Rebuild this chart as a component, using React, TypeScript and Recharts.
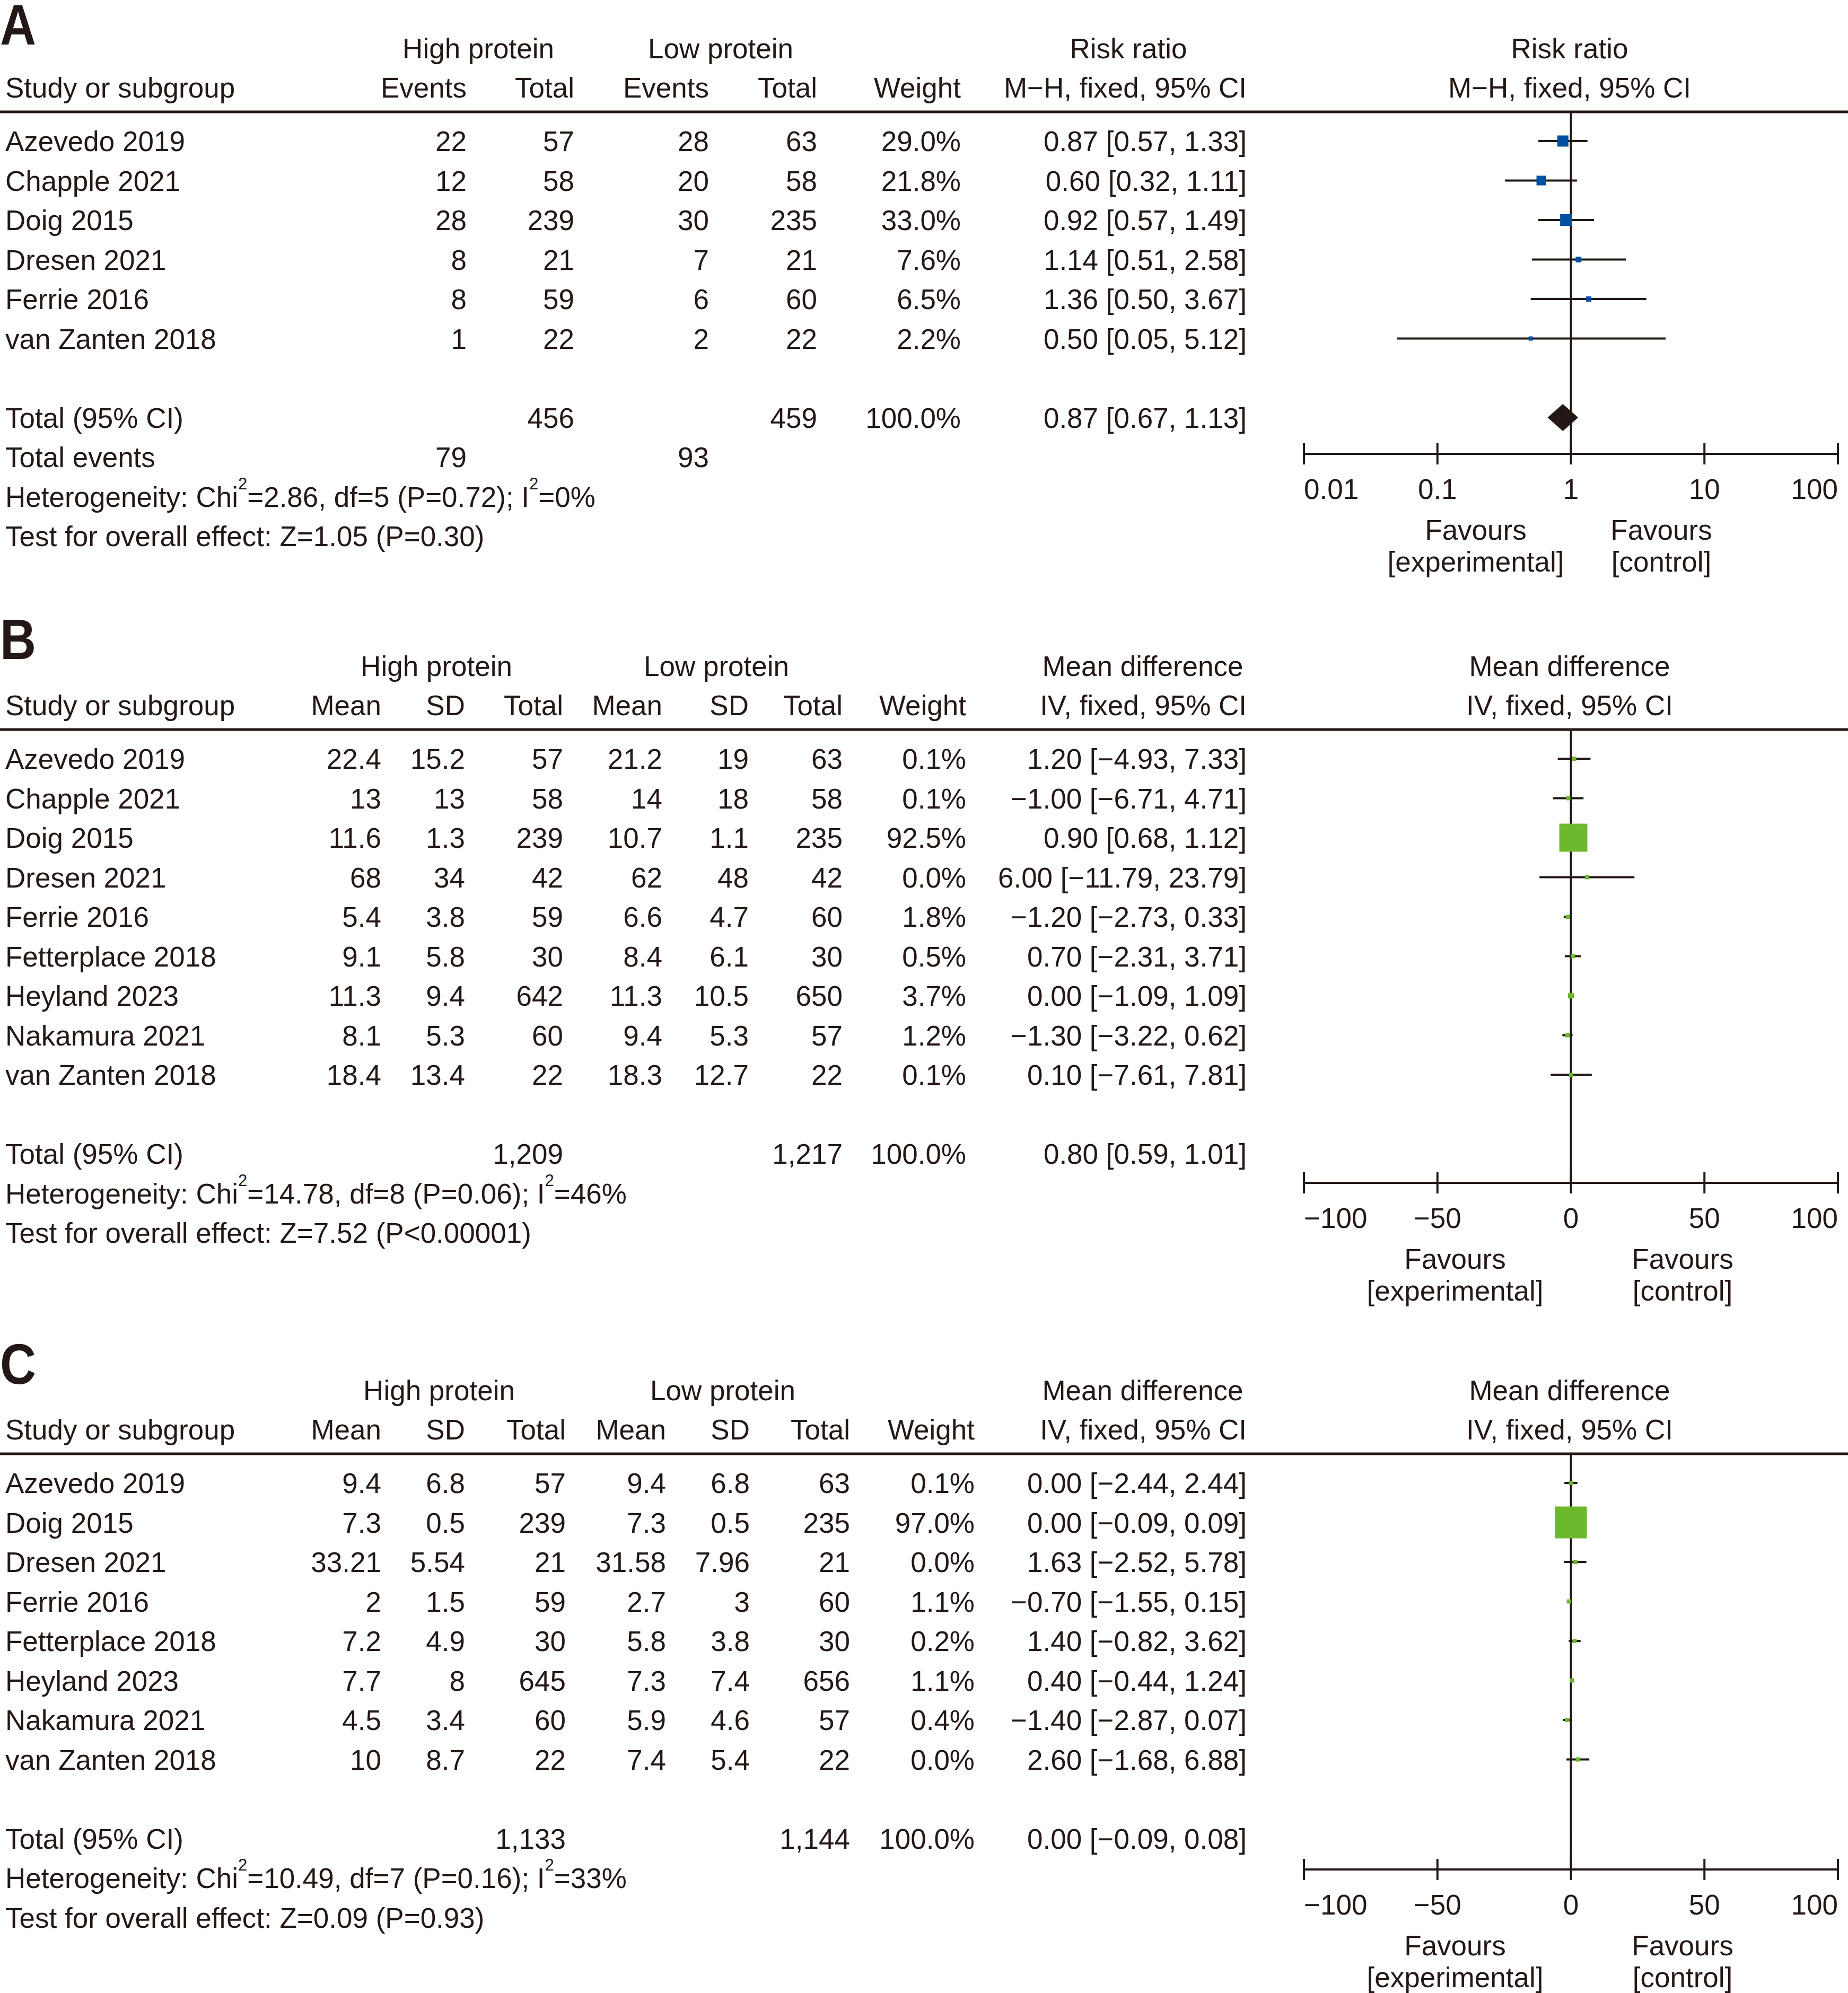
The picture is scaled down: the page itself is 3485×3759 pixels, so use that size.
import React from 'react';
import { ScatterChart, Scatter, XAxis, YAxis, ErrorBar, ReferenceLine } from 'recharts';

const INK = '#231815';
const BLUE = '#0050a0';
const GREEN = '#6cb92d';
const FONT = "'Liberation Sans', Arial, Helvetica, sans-serif";
const FS = 53;
const BL = 19; // baseline offset from a row's visual centre
const P = 74.5; // row pitch
const LX = 10;
const PLOT_L = 2459;
const PLOT_R = 3466;
const PAD = 40;

// ---- Panel A: mortality, risk ratio ----
const studiesA = ['Azevedo 2019', 'Chapple 2021', 'Doig 2015', 'Dresen 2021', 'Ferrie 2016', 'van Zanten 2018'];
const hiEventsA = [22, 12, 28, 8, 8, 1];
const hiTotalA = [57, 58, 239, 21, 59, 22];
const loEventsA = [28, 20, 30, 7, 6, 2];
const loTotalA = [63, 58, 235, 21, 60, 22];
const weightA = [29.0, 21.8, 33.0, 7.6, 6.5, 2.2];
const rrA = [0.87, 0.6, 0.92, 1.14, 1.36, 0.5];
const rrLoA = [0.57, 0.32, 0.57, 0.51, 0.5, 0.05];
const rrHiA = [1.33, 1.11, 1.49, 2.58, 3.67, 5.12];
const pooledA = [0.87, 0.67, 1.13];
const totalsA = ['456', '459'];
const eventsA = ['79', '93'];
const hetA = ['2.86', '5', '0.72', '0'];
const testA = 'Z=1.05 (P=0.30)';
const ticksA = [0.01, 0.1, 1, 10, 100];

// ---- Panel B ----
const studiesB = ['Azevedo 2019', 'Chapple 2021', 'Doig 2015', 'Dresen 2021', 'Ferrie 2016', 'Fetterplace 2018', 'Heyland 2023', 'Nakamura 2021', 'van Zanten 2018'];
const hiMeanB = [22.4, 13, 11.6, 68, 5.4, 9.1, 11.3, 8.1, 18.4];
const hiSdB = [15.2, 13, 1.3, 34, 3.8, 5.8, 9.4, 5.3, 13.4];
const hiTotalB = [57, 58, 239, 42, 59, 30, 642, 60, 22];
const loMeanB = [21.2, 14, 10.7, 62, 6.6, 8.4, 11.3, 9.4, 18.3];
const loSdB = [19, 18, 1.1, 48, 4.7, 6.1, 10.5, 5.3, 12.7];
const loTotalB = [63, 58, 235, 42, 60, 30, 650, 57, 22];
const weightB = [0.1, 0.1, 92.5, 0.0, 1.8, 0.5, 3.7, 1.2, 0.1];
const mdB = [1.2, -1.0, 0.9, 6.0, -1.2, 0.7, 0.0, -1.3, 0.1];
const mdLoB = [-4.93, -6.71, 0.68, -11.79, -2.73, -2.31, -1.09, -3.22, -7.61];
const mdHiB = [7.33, 4.71, 1.12, 23.79, 0.33, 3.71, 1.09, 0.62, 7.81];
const pooledB = [0.8, 0.59, 1.01];
const totalsB = ['1,209', '1,217'];
const hetB = ['14.78', '8', '0.06', '46'];
const testB = 'Z=7.52 (P<0.00001)';

// ---- Panel C ----
const studiesC = ['Azevedo 2019', 'Doig 2015', 'Dresen 2021', 'Ferrie 2016', 'Fetterplace 2018', 'Heyland 2023', 'Nakamura 2021', 'van Zanten 2018'];
const hiMeanC = [9.4, 7.3, 33.21, 2, 7.2, 7.7, 4.5, 10];
const hiSdC = [6.8, 0.5, 5.54, 1.5, 4.9, 8, 3.4, 8.7];
const hiTotalC = [57, 239, 21, 59, 30, 645, 60, 22];
const loMeanC = [9.4, 7.3, 31.58, 2.7, 5.8, 7.3, 5.9, 7.4];
const loSdC = [6.8, 0.5, 7.96, 3, 3.8, 7.4, 4.6, 5.4];
const loTotalC = [63, 235, 21, 60, 30, 656, 57, 22];
const weightC = [0.1, 97.0, 0.0, 1.1, 0.2, 1.1, 0.4, 0.0];
const mdC = [0.0, 0.0, 1.63, -0.7, 1.4, 0.4, -1.4, 2.6];
const mdLoC = [-2.44, -0.09, -2.52, -1.55, -0.82, -0.44, -2.87, -1.68];
const mdHiC = [2.44, 0.09, 5.78, 0.15, 3.62, 1.24, 0.07, 6.88];
const pooledC = [0.0, -0.09, 0.08];
const totalsC = ['1,133', '1,144'];
const hetC = ['10.49', '7', '0.16', '33'];
const testC = 'Z=0.09 (P=0.93)';
const ticksMD = [-100, -50, 0, 50, 100];

const minus = (s: string) => s.replace('-', '\u2212');
const f2 = (v: number) => minus((Math.abs(v) < 0.005 ? 0 : v).toFixed(2));
const ci = (e: number, l: number, h: number) => `${f2(e)} [${f2(l)}, ${f2(h)}]`;
const pct = (w: number) => `${w.toFixed(1)}%`;

function T({ x, y, anchor = 'start', size = FS, weight, family = FONT, children }: any) {
  return (
    <text x={x} y={y} textAnchor={anchor} fontSize={size} fontFamily={family} fontWeight={weight} fill={INK}>
      {children}
    </text>
  );
}

function Het({ y, v }: { y: number; v: string[] }) {
  return (
    <text x={LX} y={y} fontSize={FS} fontFamily={FONT} fill={INK}>
      Heterogeneity: Chi<tspan fontSize={31} dy={-33}>2</tspan>
      <tspan dy={33}>={v[0]}, df={v[1]} (P={v[2]}); I</tspan>
      <tspan fontSize={31} dy={-33}>2</tspan>
      <tspan dy={33}>={v[3]}%</tspan>
    </text>
  );
}

function Favours({ axisY, left, right }: { axisY: number; left: number; right: number }) {
  return (
    <g>
      <T x={left} y={axisY + 162} anchor="middle">Favours</T>
      <T x={left} y={axisY + 222} anchor="middle">[experimental]</T>
      <T x={right} y={axisY + 162} anchor="middle">Favours</T>
      <T x={right} y={axisY + 222} anchor="middle">[control]</T>
    </g>
  );
}

function Forest({ est, lo, hi, weight, pooled, log, ticks, color, boxK, top, rowTop, axisY, diamond = true }: any) {
  const yMin = (top - rowTop) / P;
  const yMax = (axisY - rowTop) / P;
  const totalRow = est.length + 1;
  const rows = est.map((e: number, i: number) => ({ x: e, y: i, err: [e - lo[i], hi[i] - e], w: weight[i] }));
  const [pe, pl, ph] = pooled;
  const dh = 0.34;
  const dia = [
    { x: pl, y: totalRow },
    { x: pe, y: totalRow - dh },
    { x: ph, y: totalRow },
    { x: pe, y: totalRow + dh },
    { x: pl, y: totalRow },
  ];
  const last = ticks.length - 1;
  const fmt = (v: number) => (v < 0 ? '\u2212' + Math.abs(v) : String(v));
  const renderTick = (p: any) => {
    const anchor = p.index === 0 ? 'start' : p.index === last ? 'end' : 'middle';
    return (
      <g>
        <line x1={p.x} x2={p.x} y1={p.y - 20} y2={p.y + 20} stroke={INK} strokeWidth={4} />
        <text x={p.x} y={p.y + 85} textAnchor={anchor} fontSize={FS} fontFamily={FONT} fill={INK}>
          {fmt(p.payload.value)}
        </text>
      </g>
    );
  };
  const box = (p: any) => {
    const s = Math.max(8, boxK * Math.sqrt(p.payload.w));
    return <rect x={p.cx - s / 2} y={p.cy - s / 2} width={s} height={s} fill={color} />;
  };
  const plotH = axisY - top;
  return (
    <div style={{ position: 'absolute', left: PLOT_L - PAD, top }}>
      <ScatterChart
        width={PLOT_R - PLOT_L + 2 * PAD}
        height={plotH + 130}
        margin={{ top: 0, right: PAD, bottom: 0, left: PAD }}
      >
        <XAxis
          type="number"
          dataKey="x"
          scale={log ? 'log' : 'linear'}
          domain={[ticks[0], ticks[last]]}
          ticks={ticks}
          interval={0}
          allowDataOverflow
          height={130}
          tickSize={0}
          tickMargin={0}
          tickLine={false}
          axisLine={{ stroke: INK, strokeWidth: 4 }}
          tick={renderTick}
        />
        <YAxis type="number" dataKey="y" domain={[yMin, yMax]} reversed hide allowDataOverflow width={0} />
        <ReferenceLine x={log ? 1 : 0} stroke={INK} strokeWidth={4} />
        {diamond && (
          <Scatter
            data={dia}
            line={{ stroke: INK, strokeWidth: 0.5, fill: INK }}
            shape={() => <g />}
            isAnimationActive={false}
          />
        )}
        <Scatter data={rows} fill={color} shape={box} isAnimationActive={false}>
          <ErrorBar dataKey="err" direction="x" width={0} stroke={INK} strokeWidth={4} />
        </Scatter>
      </ScatterChart>
    </div>
  );
}

function Letter({ y, children }: any) {
  return (
    <text
      transform={`translate(0, ${y}) scale(0.88, 1)`}
      fontSize={107}
      fontWeight="bold"
      fontFamily={FONT}
      fill={INK}
    >
      {children}
    </text>
  );
}

function Rows({ labels, cols, xs, rowTop }: { labels: string[]; cols: (string | number)[][]; xs: number[]; rowTop: number }) {
  return (
    <g>
      {labels.map((s, i) => (
        <g key={s}>
          <T x={LX} y={rowTop + i * P + BL}>{s}</T>
          {cols.map((c, j) => (
            <T key={j} x={xs[j]} y={rowTop + i * P + BL} anchor="end">{String(c[i])}</T>
          ))}
        </g>
      ))}
    </g>
  );
}

export default function App() {
  const aRule = 211, aRow = 266, aAxis = 856;
  const bRule = 1376, bRow = 1431, bAxis = 2231;
  const cRule = 2742, cRow = 2797, cAxis = 3526;
  const xsA = [880, 1083, 1337, 1541, 1812, 2351];
  const xsB = [719, 877, 1062, 1249, 1412, 1589, 1822, 2351];
  const xsC = [719, 877, 1067, 1256, 1414, 1603, 1838, 2351];
  const ciA = rrA.map((e, i) => ci(e, rrLoA[i], rrHiA[i]));
  const ciB = mdB.map((e, i) => ci(e, mdLoB[i], mdHiB[i]));
  const ciC = mdC.map((e, i) => ci(e, mdLoC[i], mdHiC[i]));
  const headMD = ['Mean', 'SD', 'Total', 'Mean', 'SD', 'Total', 'Weight', 'IV, fixed, 95% CI'];

  return (
    <div style={{ position: 'relative', width: 3485, height: 3759, background: '#fff', overflow: 'hidden' }}>
      <style>{'body{margin:0}'}</style>
      <svg width={3485} height={3759} style={{ position: 'absolute', left: 0, top: 0 }}>
        {/* ---------- A ---------- */}
        <Letter y={84}>A</Letter>
        <T x={902} y={110} anchor="middle">High protein</T>
        <T x={1359} y={110} anchor="middle">Low protein</T>
        <T x={2128} y={110} anchor="middle">Risk ratio</T>
        <T x={2960} y={110} anchor="middle">Risk ratio</T>
        <T x={LX} y={184}>Study or subgroup</T>
        <T x={xsA[0]} y={184} anchor="end">Events</T>
        <T x={xsA[1]} y={184} anchor="end">Total</T>
        <T x={xsA[2]} y={184} anchor="end">Events</T>
        <T x={xsA[3]} y={184} anchor="end">Total</T>
        <T x={xsA[4]} y={184} anchor="end">Weight</T>
        <T x={xsA[5]} y={184} anchor="end">M{'\u2212'}H, fixed, 95% CI</T>
        <T x={2960} y={184} anchor="middle">M{'\u2212'}H, fixed, 95% CI</T>
        <line x1={0} x2={3485} y1={aRule} y2={aRule} stroke={INK} strokeWidth={5} />
        <Rows labels={studiesA} cols={[hiEventsA, hiTotalA, loEventsA, loTotalA, weightA.map(pct), ciA]} xs={xsA} rowTop={aRow} />
        <T x={LX} y={aRow + 7 * P + BL}>Total (95% CI)</T>
        <T x={xsA[1]} y={aRow + 7 * P + BL} anchor="end">{totalsA[0]}</T>
        <T x={xsA[3]} y={aRow + 7 * P + BL} anchor="end">{totalsA[1]}</T>
        <T x={xsA[4]} y={aRow + 7 * P + BL} anchor="end">100.0%</T>
        <T x={xsA[5]} y={aRow + 7 * P + BL} anchor="end">{ci(pooledA[0], pooledA[1], pooledA[2])}</T>
        <T x={LX} y={aRow + 8 * P + BL}>Total events</T>
        <T x={xsA[0]} y={aRow + 8 * P + BL} anchor="end">{eventsA[0]}</T>
        <T x={xsA[2]} y={aRow + 8 * P + BL} anchor="end">{eventsA[1]}</T>
        <Het y={aRow + 9 * P + BL} v={hetA} />
        <T x={LX} y={aRow + 10 * P + BL}>Test for overall effect: {testA}</T>
        <Favours axisY={aAxis} left={2783} right={3133} />

        {/* ---------- B ---------- */}
        <Letter y={1243}>B</Letter>
        <T x={823} y={1275} anchor="middle">High protein</T>
        <T x={1351} y={1275} anchor="middle">Low protein</T>
        <T x={2155} y={1275} anchor="middle">Mean difference</T>
        <T x={2960} y={1275} anchor="middle">Mean difference</T>
        <T x={LX} y={1349}>Study or subgroup</T>
        {headMD.map((h, j) => (
          <T key={j} x={xsB[j]} y={1349} anchor="end">{h}</T>
        ))}
        <T x={2960} y={1349} anchor="middle">IV, fixed, 95% CI</T>
        <line x1={0} x2={3485} y1={bRule} y2={bRule} stroke={INK} strokeWidth={5} />
        <Rows labels={studiesB} cols={[hiMeanB, hiSdB, hiTotalB, loMeanB, loSdB, loTotalB, weightB.map(pct), ciB]} xs={xsB} rowTop={bRow} />
        <T x={LX} y={bRow + 10 * P + BL}>Total (95% CI)</T>
        <T x={xsB[2]} y={bRow + 10 * P + BL} anchor="end">{totalsB[0]}</T>
        <T x={xsB[5]} y={bRow + 10 * P + BL} anchor="end">{totalsB[1]}</T>
        <T x={xsB[6]} y={bRow + 10 * P + BL} anchor="end">100.0%</T>
        <T x={xsB[7]} y={bRow + 10 * P + BL} anchor="end">{ci(pooledB[0], pooledB[1], pooledB[2])}</T>
        <Het y={bRow + 11 * P + BL} v={hetB} />
        <T x={LX} y={bRow + 12 * P + BL}>Test for overall effect: {testB}</T>
        <Favours axisY={bAxis} left={2744} right={3173} />

        {/* ---------- C ---------- */}
        <Letter y={2610}>C</Letter>
        <T x={828} y={2641} anchor="middle">High protein</T>
        <T x={1363} y={2641} anchor="middle">Low protein</T>
        <T x={2155} y={2641} anchor="middle">Mean difference</T>
        <T x={2960} y={2641} anchor="middle">Mean difference</T>
        <T x={LX} y={2715}>Study or subgroup</T>
        {headMD.map((h, j) => (
          <T key={j} x={xsC[j]} y={2715} anchor="end">{h}</T>
        ))}
        <T x={2960} y={2715} anchor="middle">IV, fixed, 95% CI</T>
        <line x1={0} x2={3485} y1={cRule} y2={cRule} stroke={INK} strokeWidth={5} />
        <Rows labels={studiesC} cols={[hiMeanC, hiSdC, hiTotalC, loMeanC, loSdC, loTotalC, weightC.map(pct), ciC]} xs={xsC} rowTop={cRow} />
        <T x={LX} y={cRow + 9 * P + BL}>Total (95% CI)</T>
        <T x={xsC[2]} y={cRow + 9 * P + BL} anchor="end">{totalsC[0]}</T>
        <T x={xsC[5]} y={cRow + 9 * P + BL} anchor="end">{totalsC[1]}</T>
        <T x={xsC[6]} y={cRow + 9 * P + BL} anchor="end">100.0%</T>
        <T x={xsC[7]} y={cRow + 9 * P + BL} anchor="end">{ci(pooledC[0], pooledC[1], pooledC[2])}</T>
        <Het y={cRow + 10 * P + BL} v={hetC} />
        <T x={LX} y={cRow + 11 * P + BL}>Test for overall effect: {testC}</T>
        <Favours axisY={cAxis} left={2744} right={3173} />
      </svg>

      <Forest est={rrA} lo={rrLoA} hi={rrHiA} weight={weightA} pooled={pooledA} log ticks={ticksA}
        color={BLUE} boxK={3.9} top={aRule} rowTop={aRow} axisY={aAxis} />
      <Forest est={mdB} lo={mdLoB} hi={mdHiB} weight={weightB} pooled={pooledB} log={false} ticks={ticksMD}
        color={GREEN} boxK={5.5} top={bRule} rowTop={bRow} axisY={bAxis} diamond={false} />
      <Forest est={mdC} lo={mdLoC} hi={mdHiC} weight={weightC} pooled={pooledC} log={false} ticks={ticksMD}
        color={GREEN} boxK={6.1} top={cRule} rowTop={cRow} axisY={cAxis} />
    </div>
  );
}
